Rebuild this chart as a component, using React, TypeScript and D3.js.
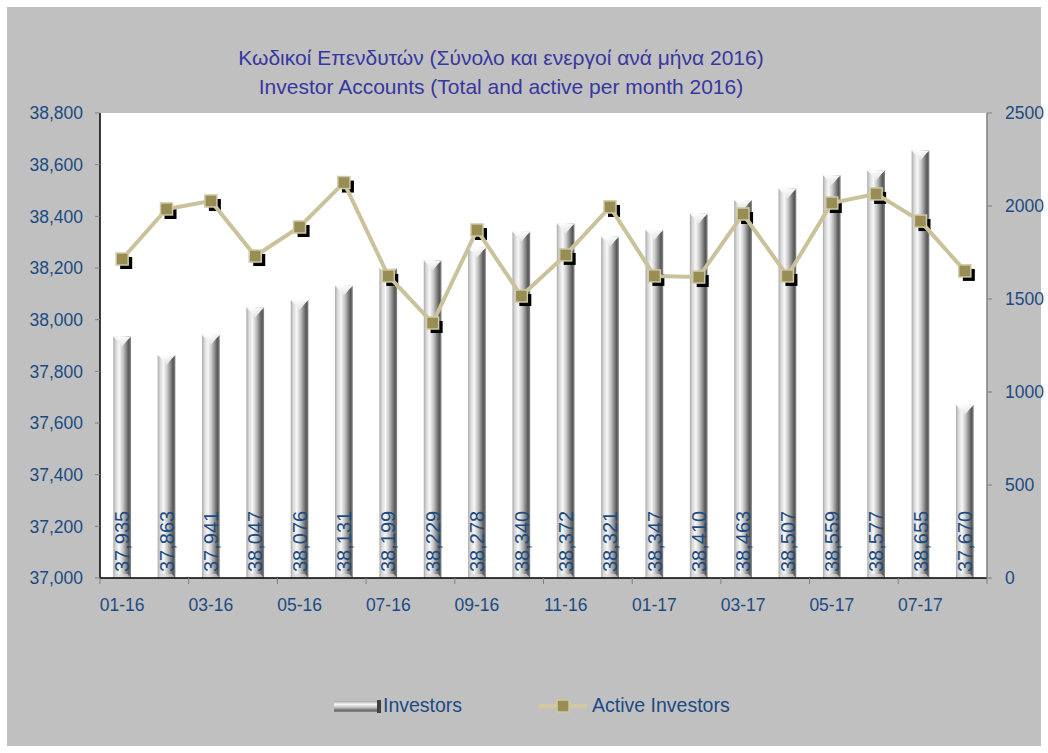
import React from "react";
import * as d3 from "d3";

const months = ["01-16","02-16","03-16","04-16","05-16","06-16","07-16","08-16","09-16","10-16","11-16","12-16","01-17","02-17","03-17","04-17","05-17","06-17","07-17","08-17"];
const investors = [37935,37863,37941,38047,38076,38131,38199,38229,38278,38340,38372,38321,38347,38410,38463,38507,38559,38577,38655,37670];
const activeInvestors = [1715,1984,2027,1731,1887,2126,1624,1371,1871,1516,1737,1995,1624,1618,1957,1624,2016,2065,1919,1651];
const leftTicks = [37000,37200,37400,37600,37800,38000,38200,38400,38600,38800];
const rightTicks = [0,500,1000,1500,2000,2500];
const titleGreek = "Κωδικοί Επενδυτών (Σύνολο και ενεργοί ανά μήνα 2016)";
const titleEnglish = "Investor Accounts (Total and active per month 2016)";

const W = 1048, H = 753;
const plot = { left: 100, right: 987, top: 113, bottom: 578 };
const FONT = "'Liberation Sans', Arial, sans-serif";
const BLUE = "#1b4b82";

export default function App() {
  const x = d3.scaleBand<string>().domain(months).range([plot.left, plot.right]).paddingInner(0).paddingOuter(0);
  const yL = d3.scaleLinear().domain([37000, 38800]).range([plot.bottom, plot.top]);
  const yR = d3.scaleLinear().domain([0, 2500]).range([plot.bottom, plot.top]);
  const bw = x.bandwidth() * 0.4;
  const cx = (m: string) => (x(m) as number) + x.bandwidth() / 2;
  const line = d3.line<number>().x((_, i) => cx(months[i])).y(d => yR(d));
  const ms = 12;

  return (
    <div style={{ position: "absolute", left: 0, top: 0 }}>
      <svg width={W} height={H} style={{ display: "block" }}>
        <defs>
          <linearGradient id="barG" x1="0" x2="1" y1="0" y2="0">
            <stop offset="0%" stopColor="#a8a8a8" />
            <stop offset="14%" stopColor="#d8d8d8" />
            <stop offset="34%" stopColor="#f8f8f8" />
            <stop offset="55%" stopColor="#c4c4c4" />
            <stop offset="75%" stopColor="#808080" />
            <stop offset="88%" stopColor="#555555" />
            <stop offset="100%" stopColor="#8c8c8c" />
          </linearGradient>
          <linearGradient id="capG" x1="0" x2="0" y1="0" y2="1">
            <stop offset="0%" stopColor="#ffffff" />
            <stop offset="100%" stopColor="#e4e4e4" />
          </linearGradient>
          <linearGradient id="legG" x1="0" x2="0" y1="0" y2="1">
            <stop offset="0%" stopColor="#a4a4a4" />
            <stop offset="30%" stopColor="#f6f6f6" />
            <stop offset="60%" stopColor="#bcbcbc" />
            <stop offset="85%" stopColor="#6a6a6a" />
            <stop offset="100%" stopColor="#8c8c8c" />
          </linearGradient>
        </defs>
        <rect x={0} y={0} width={W} height={H} fill="#ffffff" />
        <rect x={7} y={7} width={W - 14} height={H - 14} fill="#c0c0c0" />
        <rect x={plot.left} y={plot.top} width={plot.right - plot.left} height={plot.bottom - plot.top} fill="#ffffff" />

        {/* title */}
        <text x={501} y={65} textAnchor="middle" fontFamily={FONT} fontSize={21} fill="#3737a0">{titleGreek}</text>
        <text x={501} y={94} textAnchor="middle" fontFamily={FONT} fontSize={21} fill="#3737a0">{titleEnglish}</text>

        {/* bars */}
        {investors.map((v, i) => {
          const c = cx(months[i]);
          const x0 = c - bw / 2;
          const top = yL(v);
          const h = plot.bottom - top;
          return (
            <g key={"b" + i}>
              <rect x={x0} y={top} width={bw} height={h} fill="url(#barG)" />
              <path d={`M${x0},${top} L${x0 + bw},${top} L${x0 + bw * 0.78},${top + 4} L${c},${top + 10} L${x0 + bw * 0.22},${top + 4} Z`} fill="url(#capG)" opacity={0.95} />
              <path d={`M${x0},${plot.bottom} L${x0 + bw},${plot.bottom} L${x0 + bw * 0.8},${plot.bottom - 4} L${x0 + bw * 0.2},${plot.bottom - 4} Z`} fill="#d8d8d8" opacity={0.7} />
            </g>
          );
        })}
        {investors.map((v, i) => (
          <text key={"bl" + i} transform={`translate(${cx(months[i])},572) rotate(-90)`} dy="0.36em" fontFamily={FONT} fontSize={20} fill={BLUE}>
            {d3.format(",")(v)}
          </text>
        ))}

        {/* axes */}
        <line x1={plot.left} x2={plot.left} y1={plot.top} y2={plot.bottom} stroke="#000" strokeWidth={1.5} />
        <line x1={plot.left} x2={plot.right} y1={plot.bottom} y2={plot.bottom} stroke="#000" strokeWidth={1.5} />
        <line x1={plot.right} x2={plot.right} y1={plot.top} y2={plot.bottom} stroke="#808080" strokeWidth={1.5} />
        {leftTicks.map(t => (
          <g key={"lt" + t}>
            <line x1={plot.left - 5} x2={plot.left} y1={yL(t)} y2={yL(t)} stroke="#808080" />
            <text x={83} y={yL(t)} dy="0.36em" textAnchor="end" fontFamily={FONT} fontSize={17.5} fill={BLUE}>{d3.format(",")(t)}</text>
          </g>
        ))}
        {rightTicks.map(t => (
          <g key={"rt" + t}>
            <line x1={plot.right} x2={plot.right + 5} y1={yR(t)} y2={yR(t)} stroke="#808080" />
            <text x={1005} y={yR(t)} dy="0.36em" textAnchor="start" fontFamily={FONT} fontSize={17.5} fill={BLUE}>{t}</text>
          </g>
        ))}
        {months.map((m, i) => i % 2 === 0 ? (
          <g key={"xt" + m}>
            <line x1={x(m) as number} x2={x(m) as number} y1={plot.bottom} y2={plot.bottom + 6} stroke="#808080" />
            <text x={cx(m)} y={611} textAnchor="middle" fontFamily={FONT} fontSize={17.5} fill={BLUE}>{m}</text>
          </g>
        ) : null)}
        <line x1={plot.right} x2={plot.right} y1={plot.bottom} y2={plot.bottom + 6} stroke="#808080" />

        {/* line series */}
        {activeInvestors.map((v, i) => (
          <rect key={"sh" + i} x={cx(months[i]) - ms / 2 + 4} y={yR(v) - ms / 2 + 4} width={ms} height={ms} fill="#000" />
        ))}
        <path d={line(activeInvestors) as string} fill="none" stroke="#c9c29b" strokeWidth={4} />
        {activeInvestors.map((v, i) => (
          <rect key={"mk" + i} x={cx(months[i]) - ms / 2} y={yR(v) - ms / 2} width={ms} height={ms} fill="#978d55" stroke="#cfc8a2" strokeWidth={1.5} />
        ))}

        {/* legend */}
        <rect x={334} y={701} width={46} height={11} fill="url(#legG)" />
        <rect x={377} y={700} width={4} height={13} fill="#404040" />
        <text x={383} y={712} fontFamily={FONT} fontSize={19.5} fill={BLUE}>Investors</text>
        <line x1={539} x2={587} y1={706} y2={706} stroke="#d0c9a3" strokeWidth={4} />
        <rect x={557} y={700} width={12} height={12} fill="#978d55" stroke="#cfc8a2" strokeWidth={1.5} />
        <text x={592} y={712} fontFamily={FONT} fontSize={19.5} fill={BLUE}>Active Investors</text>
      </svg>
    </div>
  );
}
